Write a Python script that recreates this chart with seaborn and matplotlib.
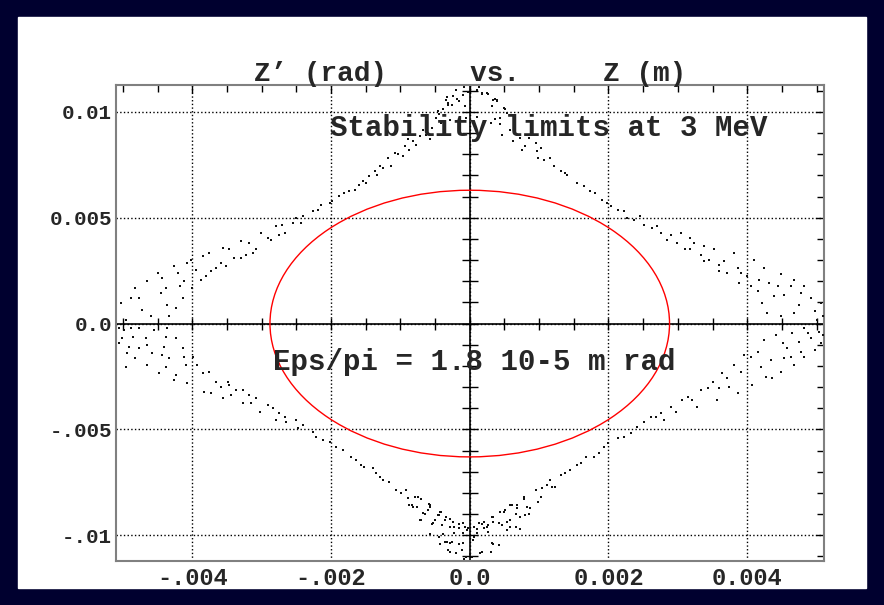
import numpy as np
import pandas as pd
import seaborn as sns
import matplotlib.pyplot as plt
from matplotlib.patches import Ellipse, Rectangle
from matplotlib.ticker import FixedLocator, FixedFormatter, MultipleLocator

# tracked particles, (Z in mm, Z' in mrad)
upper_left = [
    (-5.03, 0.98), (-4.96, 0.19), (-4.89, 1.21), (-4.82, 1.69), (-4.77, 1.21), (-4.72, 0.66),
    (-4.65, 2.00), (-4.60, 0.35), (-4.50, 2.39), (-4.45, 1.45), (-4.43, 2.16), (-4.38, 1.69),
    (-4.36, 0.90), (-4.33, 0.35), (-4.26, 2.71), (-4.24, 0.74), (-4.21, 2.39), (-4.17, 1.76),
    (-4.14, 1.21), (-4.12, 2.00), (-4.07, 2.87), (-4.02, 3.02), (-4.00, 1.69), (-3.95, 2.55),
    (-3.88, 2.08), (-3.85, 3.18), (-3.80, 2.24), (-3.76, 3.34), (-3.73, 2.47), (-3.66, 2.63),
    (-3.59, 2.87), (-3.56, 3.57), (-3.52, 2.71), (-3.47, 3.50), (-3.40, 3.10), (-3.30, 3.89),
    (-3.30, 3.10), (-3.23, 3.26), (-3.18, 3.81), (-3.13, 3.34), (-3.08, 3.50), (-3.01, 4.28),
    (-2.91, 4.05), (-2.87, 3.97), (-2.79, 4.60), (-2.75, 4.20), (-2.70, 4.68), (-2.67, 4.28),
    (-2.55, 4.76), (-2.50, 4.99), (-2.43, 4.76), (-2.41, 5.07), (-2.26, 5.31), (-2.19, 5.39),
    (-2.14, 5.62), (-2.02, 5.70), (-1.98, 5.78), (-1.88, 6.02), (-1.81, 6.17), (-1.74, 6.25),
    (-1.66, 6.33), (-1.59, 6.57), (-1.54, 6.73), (-1.50, 6.65), (-1.45, 6.96), (-1.37, 7.20),
    (-1.33, 7.04), (-1.30, 7.43), (-1.25, 7.36), (-1.18, 7.83), (-1.13, 7.43), (-1.08, 8.06),
    (-1.04, 7.99), (-0.96, 7.91), (-0.94, 8.38), (-0.89, 8.70), (-0.87, 8.22), (-0.82, 8.62),
    (-0.77, 8.46), (-0.72, 8.85), (-0.68, 9.17), (-0.63, 8.93), (-0.58, 8.70), (-0.55, 9.25),
    (-0.48, 9.72), (-0.46, 10.03), (-0.41, 9.48), (-0.34, 10.58), (-0.32, 10.35), (-0.29, 9.64),
    (-0.24, 10.74), (-0.20, 11.06), (-0.15, 10.51), (-0.10, 10.82), (-0.05, 9.72), (-0.07, 10.27),
]
top_tip = [
    (-0.09, 11.18), (-0.02, 10.95), (0.13, 11.18), (0.18, 10.87), (0.27, 10.87), (0.34, 10.55),
    (0.39, 10.55), (-0.33, 10.71), (-0.31, 10.40), (-0.26, 10.32), (-0.18, 10.63), (-0.38, 10.16),
    (-0.45, 9.92), (0.51, 10.16), (0.58, 9.84), (0.11, 9.76), (0.37, 9.69), (0.44, 9.45),
]
upper_right = [
    (0.10, 11.06), (0.18, 10.90), (0.25, 10.90), (0.37, 10.59), (0.39, 10.51), (0.32, 10.27),
    (0.49, 10.19), (0.54, 9.96), (0.30, 9.48), (0.44, 9.72), (0.46, 8.93), (0.58, 9.17),
    (0.63, 8.62), (0.73, 8.77), (0.75, 8.22), (0.80, 8.38), (0.85, 8.77), (0.95, 8.54),
    (0.97, 8.14), (0.99, 7.83), (1.02, 8.30), (1.07, 7.75), (1.16, 7.83), (1.21, 7.43),
    (1.31, 7.20), (1.38, 7.12), (1.40, 7.04), (1.55, 6.65), (1.64, 6.49), (1.74, 6.25),
    (1.81, 6.17), (1.91, 5.86), (1.98, 5.70), (2.03, 5.54), (2.13, 5.39), (2.22, 5.31),
    (2.27, 4.99), (2.37, 4.91), (2.46, 5.07), (2.51, 4.68), (2.63, 4.52), (2.70, 4.60),
    (2.75, 4.28), (2.85, 3.97), (2.90, 4.20), (2.99, 3.81), (3.04, 4.28), (3.11, 3.50),
    (3.18, 4.05), (3.23, 3.81), (3.33, 3.26), (3.38, 3.65), (3.45, 3.02), (3.52, 3.50),
    (3.59, 2.79), (3.67, 2.94), (3.71, 2.39), (3.81, 3.34), (3.86, 2.63), (3.88, 1.92),
    (4.00, 2.24), (4.05, 1.76), (4.10, 3.02), (4.17, 2.08), (4.22, 0.98), (4.24, 2.63),
    (4.29, 0.50), (4.32, 1.92), (4.39, 1.29), (4.44, 1.76), (4.48, 2.32), (4.53, 1.37),
    (4.63, 1.76), (4.68, 2.08), (4.75, 0.90), (4.77, 1.45), (4.82, 1.76), (4.92, 1.21),
    (4.97, 0.58), (5.06, 0.98), (5.09, 0.35), (5.01, 0.19), (4.68, 0.50), (4.48, 0.35),
    (4.15, 1.53), (3.91, 2.39), (3.59, 2.47), (3.38, 2.94), (3.18, 3.50),
]
lower_left = [
    (-5.06, -0.22), (-4.98, -0.30), (-4.89, -0.22), (-4.77, -0.22), (-4.55, -0.30), (-4.36, -0.22),
    (-5.01, -0.69), (-4.86, -0.62), (-4.67, -0.69), (-4.38, -0.62), (-4.24, -0.69), (-4.91, -1.09),
    (-4.77, -1.17), (-4.65, -1.01), (-4.41, -1.09), (-5.06, -0.93), (-4.94, -1.40), (-4.82, -1.64),
    (-4.58, -1.40), (-4.43, -1.48), (-4.33, -1.64), (-4.14, -1.17), (-4.12, -1.56), (-4.09, -1.95),
    (-4.96, -2.03), (-4.65, -1.95), (-4.48, -2.35), (-4.38, -2.03), (-4.24, -2.43), (-4.26, -2.66),
    (-4.07, -2.82), (-3.99, -1.56), (-3.93, -1.95), (-3.85, -2.35), (-3.83, -3.22), (-3.73, -3.29),
    (-3.76, -2.27), (-3.66, -2.74), (-3.59, -2.98), (-3.56, -3.53), (-3.49, -2.74), (-3.47, -2.90),
    (-3.44, -3.37), (-3.37, -3.14), (-3.27, -3.14), (-3.27, -3.77), (-3.18, -3.37), (-3.15, -3.77),
    (-3.08, -3.53), (-3.03, -4.16), (-2.91, -3.85), (-2.84, -4.00), (-2.79, -4.55), (-2.75, -4.24),
    (-2.67, -4.40), (-2.65, -4.63), (-2.50, -4.55), (-2.48, -4.95), (-2.41, -4.79), (-2.26, -5.11),
    (-2.22, -5.34), (-2.12, -5.50), (-2.02, -5.58), (-1.93, -5.81), (-1.83, -5.97), (-1.71, -6.29),
    (-1.64, -6.44), (-1.57, -6.68), (-1.52, -6.76), (-1.40, -6.84), (-1.35, -7.08), (-1.30, -7.23),
    (-1.25, -7.39), (-1.16, -7.47), (-1.06, -7.86), (-0.99, -8.02), (-0.92, -7.86), (-0.89, -8.26),
    (-0.87, -8.57), (-0.82, -8.65), (-0.75, -8.18), (-0.68, -8.96), (-0.72, -9.28), (-0.60, -8.81),
    (-0.58, -8.57), (-0.53, -9.44), (-0.46, -9.04), (-0.44, -10.07), (-0.41, -8.89), (-0.34, -9.12),
    (-0.29, -9.59), (-0.24, -9.36), (-0.22, -9.91), (-0.15, -9.67), (-0.10, -9.44), (-0.03, -9.67),
    (-0.29, -10.38), (-0.20, -10.86), (-0.10, -10.38), (-0.05, -11.01), (-0.36, -10.30), (-0.29, -10.78),
    (-0.10, -9.91),
]
bottom_tip = [
    (-0.79, -8.19), (-0.71, -8.27), (-0.83, -8.59), (-0.76, -8.67), (-0.59, -8.51), (-0.57, -8.67),
    (-0.64, -8.98), (-0.43, -8.90), (-0.45, -9.06), (-0.50, -9.30), (-0.35, -9.30), (-0.28, -9.22),
    (-0.71, -9.30), (-0.55, -9.45), (-0.40, -9.53), (-0.23, -9.61), (-0.16, -9.45), (-0.07, -9.61),
    (-0.04, -9.77), (0.10, -9.69), (0.18, -9.45), (0.20, -9.38), (0.32, -9.14), (0.34, -9.38),
    (0.27, -9.85), (0.44, -8.90), (0.51, -8.82), (0.46, -9.53), (0.58, -8.59), (0.68, -8.59),
    (0.66, -8.98), (0.78, -8.27), (0.83, -8.67), (0.85, -8.98), (0.58, -9.61), (0.54, -9.77),
    (0.73, -9.69), (-0.33, -10.32), (-0.26, -10.32), (-0.16, -10.40), (-0.11, -10.71), (0.01, -10.87),
    (0.18, -10.79), (0.30, -10.79), (0.34, -10.40), (0.42, -10.48), (-0.43, -10.40), (-0.31, -10.71),
    (0.05, -10.24), (-0.09, -11.11), (-0.57, -9.92), (-0.38, -9.92),
]
lower_right = [
    (0.06, -9.59), (0.13, -9.44), (0.20, -9.67), (0.27, -9.52), (0.34, -9.12), (0.42, -9.44),
    (0.49, -8.89), (0.54, -9.36), (0.58, -9.28), (0.61, -8.57), (0.66, -9.59), (0.68, -8.73),
    (0.73, -9.12), (0.80, -9.04), (0.78, -8.18), (0.87, -8.73), (0.95, -7.86), (0.99, -8.41),
    (1.02, -8.18), (1.04, -7.78), (1.11, -7.63), (1.16, -7.39), (1.19, -7.70), (1.23, -7.70),
    (1.31, -7.15), (1.38, -7.07), (1.45, -6.92), (1.55, -6.68), (1.60, -6.60), (1.67, -6.29),
    (1.79, -6.29), (1.86, -6.13), (1.93, -5.81), (2.00, -5.66), (2.13, -5.42), (2.22, -5.34),
    (2.32, -5.18), (2.41, -4.87), (2.51, -4.63), (2.61, -4.40), (2.68, -4.40), (2.75, -4.24),
    (2.80, -4.55), (2.90, -3.92), (2.97, -4.16), (3.06, -3.61), (3.14, -3.45), (3.21, -3.61),
    (3.28, -3.92), (3.33, -3.14), (3.43, -3.06), (3.50, -2.74), (3.57, -3.61), (3.59, -3.06),
    (3.64, -2.35), (3.71, -2.59), (3.74, -2.98), (3.81, -1.95), (3.86, -3.29), (3.91, -2.27),
    (3.95, -1.48), (4.05, -1.56), (4.07, -2.90), (4.15, -1.32), (4.20, -2.03), (4.24, -0.77),
    (4.27, -2.51), (4.34, -1.72), (4.36, -2.59), (4.41, -0.54), (4.48, -2.27), (4.51, -0.93),
    (4.58, -1.17), (4.63, -1.56), (4.68, -1.95), (4.75, -0.85), (4.77, -1.32), (4.82, -1.56),
    (4.87, -0.46), (4.92, -0.69), (4.97, -1.25), (5.04, -0.38), (5.06, -0.93), (5.09, -0.54),
    (4.65, -0.46), (4.53, -1.64), (4.82, -0.22), (0.06, -10.07), (0.10, -9.91), (0.15, -10.86),
    (0.32, -10.38), (0.25, -9.59), (0.03, -11.01),
]

# matched ellipse, Eps/pi = a*b = 1.8e-5 m rad
ell_a = 2.88e-3   # half width, m
ell_b = 6.30e-3   # half height, rad

x_ticks = [-0.004, -0.002, 0.0, 0.002, 0.004]
x_labels = ["-.004", "-.002", "0.0", "0.002", "0.004"]
y_ticks = [-0.01, -0.005, 0.0, 0.005, 0.01]
y_labels = ["-.01", "-.005", "0.0", "0.005", "0.01"]

sns.set_style("white")
plt.rcParams['font.family'] = ['Liberation Mono', 'DejaVu Sans']
plt.rcParams['font.weight'] = 'bold'

pts = pd.DataFrame(upper_left + top_tip + upper_right + lower_left + bottom_tip + lower_right,
                   columns=['z', 'zp']) * 1e-3

fig = plt.figure(figsize=(8.84, 6.05), dpi=100, facecolor='#00002f')
fig.patches.append(Rectangle((18 / 884, 1 - 588 / 605), 848 / 884, 571 / 605,
                             transform=fig.transFigure, color='white', zorder=-1))
ax = fig.add_axes([0.1312, 0.0727, 0.8004, 0.786])

sns.scatterplot(data=pts, x='z', y='zp', ax=ax, s=0.9, marker='s', color='#111111',
                linewidth=0, zorder=3)
ax.add_patch(Ellipse((0, 0), 2 * ell_a, 2 * ell_b, fill=False, color='red', lw=1, zorder=4))

# zero axes with their own cross ticks
ax.axhline(0, color='black', lw=1.2, zorder=2)
ax.axvline(0, color='black', lw=1.2, zorder=2)
xt = np.arange(-0.005, 0.00501, 0.0005)
yt = np.arange(-0.011, 0.0111, 0.001)
ax.plot(xt, np.zeros_like(xt), ls='none', marker='|', ms=9, mew=1, color='black', zorder=2)
ax.plot(np.zeros_like(yt), yt, ls='none', marker='_', ms=12, mew=1, color='black', zorder=2)

ax.set_xlim(-0.0051, 0.0051)
ax.set_ylim(-0.01122, 0.01125)
ax.xaxis.set_major_locator(FixedLocator(x_ticks))
ax.xaxis.set_major_formatter(FixedFormatter(x_labels))
ax.yaxis.set_major_locator(FixedLocator(y_ticks))
ax.yaxis.set_major_formatter(FixedFormatter(y_labels))
ax.xaxis.set_minor_locator(MultipleLocator(0.0005))
ax.yaxis.set_minor_locator(MultipleLocator(0.001))
ax.tick_params(which='both', direction='in', top=True, right=True, color='black', width=1)
ax.tick_params(which='major', length=6)
ax.tick_params(which='minor', length=5)
ax.tick_params(axis='x', pad=4, labelsize=17)
ax.tick_params(axis='y', pad=3, labelsize=15)
for lab in ax.get_xticklabels() + ax.get_yticklabels():
    lab.set_fontweight('bold')

ax.grid(True, which='major', ls=':', color='black', lw=1)
for sp in ax.spines.values():
    sp.set_color('#808080')
    sp.set_linewidth(1.5)

ax.set_xlabel('')
ax.set_ylabel('')
ax.set_title('Z’ (rad)     vs.     Z (m)', fontsize=20, fontweight='bold', pad=3)
ax.text(-0.00201, 0.00923, 'Stability limits at 3 MeV', fontsize=21, fontweight='bold',
        ha='left', va='center', zorder=5)
ax.text(-0.00284, -0.00183, 'Eps/pi = 1.8 10-5 m rad', fontsize=21, fontweight='bold',
        ha='left', va='center', zorder=5)

fig.savefig('out.png', dpi=100, facecolor=fig.get_facecolor())
